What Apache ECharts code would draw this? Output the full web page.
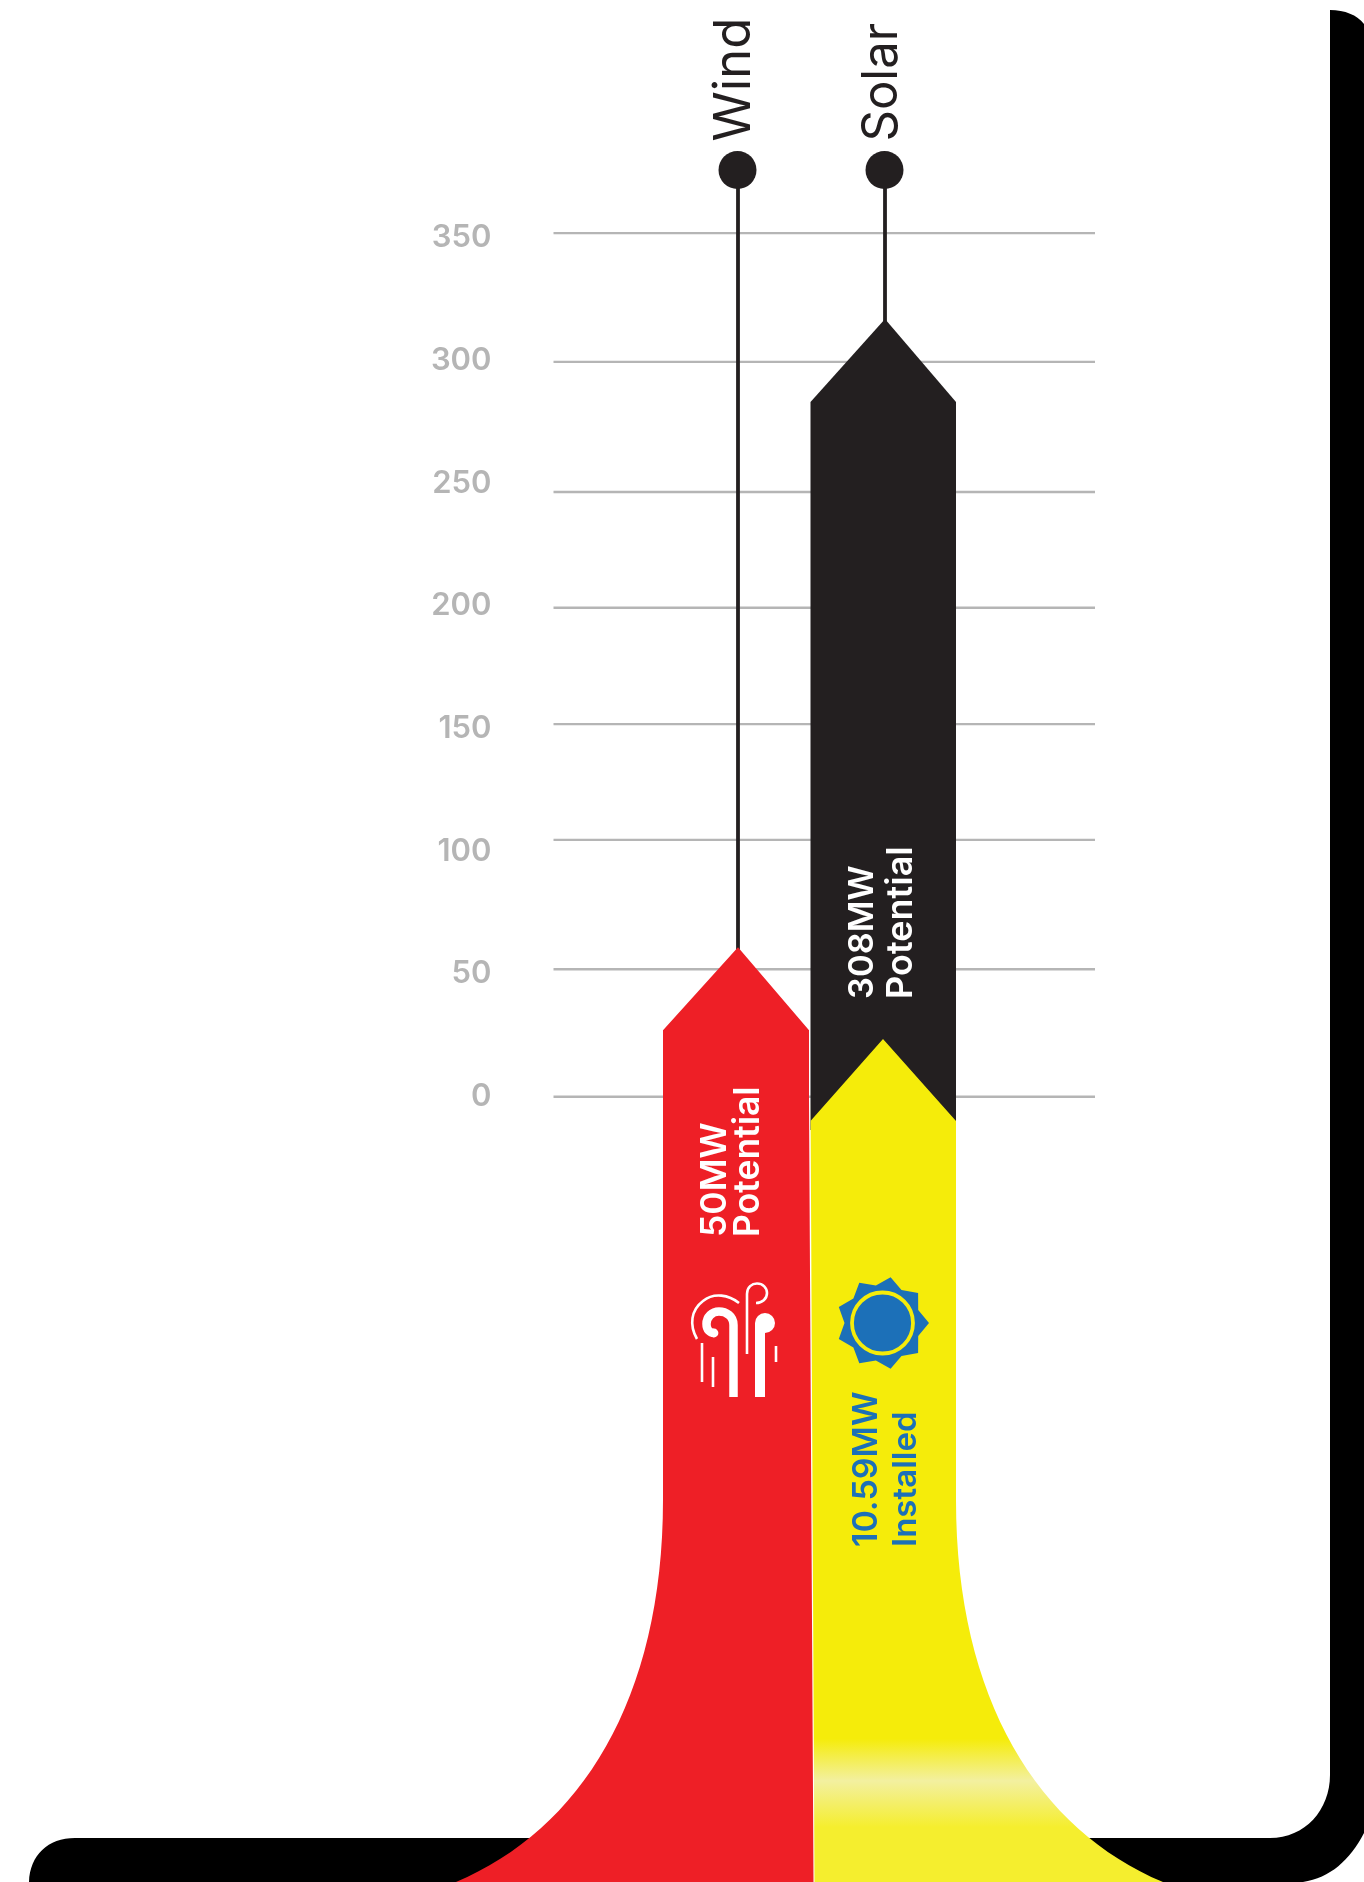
<!DOCTYPE html>
<html><head><meta charset="utf-8">
<style>html,body{margin:0;padding:0;background:#fff}#c{width:1364px;height:1882px}</style>
<script src="https://cdn.jsdelivr.net/npm/echarts@6/dist/echarts.min.js"></script>
</head><body><div id="c"></div>
<script>
const categories = ['Wind', 'Solar'];
const potentialTops = [61, 317];
const installedTops = [null, 23.6];
const tickLabels = [0, 50, 100, 150, 200, 250, 300, 350];
const gridLineValues = [0, 52, 104.7, 151.9, 199.3, 246.5, 299.5, 352];
const windTexts = ['50MW', 'Potential'];
const solarPotentialTexts = ['308MW', 'Potential'];
const solarInstalledTexts = ['10.59MW', 'Installed'];

const INK = '#231f20', RED = '#ee1f26', YELLOW = '#f5ec0a', BLUE = '#1c70b8', GREY = '#b5b5b5';
const FONT = 'Inter, "Open Sans", sans-serif';
const HEAD = 83, BOTTOM = 1882;

function vText(text, x, y, size, weight, color) {
  return { type: 'text', x: x, y: y, rotation: Math.PI / 2, silent: true,
    style: { text: text, x: 0, y: 0, fill: color, font: weight + ' ' + size + 'px ' + FONT,
      textAlign: 'left', textVerticalAlign: 'middle', verticalAlign: 'middle' } };
}
function pathEl(d, style) { return { type: 'path', shape: { pathData: d }, style: style, silent: true }; }

const chart = echarts.init(document.getElementById('c'), null, { renderer: 'canvas', width: 1364, height: 1882 });

function renderFrame() {
  return { type: 'group', children: [
    pathEl('M29 1882 C30 1855 48 1838 75 1838 L1270 1838 C1305 1838 1330 1810 1330 1775 L1330 10 ' +
      'C1345 10 1357 15 1364 24 L1364 1833 C1350 1860 1330 1878 1303 1882 Z', { fill: '#000' }),
    pathEl('M808 1100 L812 1100 L816 1882 L812 1882 Z', { fill: '#fff' })
  ] };
}
function renderGrid(params, api) {
  const y = api.coord([0, api.value(1)])[1];
  return { type: 'line', shape: { x1: 553.5, y1: y, x2: 1095, y2: y }, style: { stroke: GREY, lineWidth: 2.4 }, silent: true };
}
function renderPotential(params, api) {
  const i = api.value(0), c = api.coord([i, api.value(1)]), cx = c[0], tip = c[1];
  const tipX = cx + 2, children = [];
  children.push({ type: 'line', shape: { x1: tipX, y1: 170, x2: tipX, y2: tip + 4 }, style: { stroke: INK, lineWidth: 3.8 }, silent: true });
  children.push({ type: 'circle', shape: { cx: tipX - 0.5, cy: 170, r: 19 }, style: { fill: INK }, silent: true });
  children.push(vText(categories[i], i === 0 ? 735 : 882, 141.5, i === 0 ? 51 : 49, 400, INK));
  const sh = tip + HEAD;
  if (i === 0) {
    children.push(pathEl('M' + tipX + ' ' + tip + ' L809 ' + sh + ' L809 1100 L813.5 ' + BOTTOM + ' L456 ' + BOTTOM +
      ' C580 1830 663 1700 663 1500 L663 ' + sh + ' Z', { fill: RED }));
    children.push(vText(windTexts[0], 715, 1237, 35.5, 600, '#fff'));
    children.push(vText(windTexts[1], 748.5, 1237, 35.5, 600, '#fff'));
    windIcon(children);
  } else {
    children.push(pathEl('M' + tipX + ' ' + tip + ' L956 ' + sh + ' L956 1130 L810.5 1130 L810.5 ' + sh + ' Z', { fill: INK }));
    children.push(vText(solarPotentialTexts[0], 863, 999, 34.5, 600, '#fff'));
    children.push(vText(solarPotentialTexts[1], 901.5, 999, 36, 600, '#fff'));
  }
  return { type: 'group', children: children };
}
function windIcon(ch) {
  const thick = { fill: 'none', stroke: '#fff', lineWidth: 8.5 };
  const thin = { fill: 'none', stroke: '#fff', lineWidth: 2.6 };
  ch.push(pathEl('M733.5 1397 L733.5 1325 C733.5 1316 726 1311.5 719 1311.5 C712 1311.5 706.5 1317 706.5 1324 C706.5 1330 710 1333 714 1333', thick));
  ch.push({ type: 'circle', shape: { cx: 714, cy: 1333, r: 4.4 }, style: { fill: '#fff' }, silent: true });
  ch.push({ type: 'rect', shape: { x: 755, y: 1323, width: 10, height: 74 }, style: { fill: '#fff' }, silent: true });
  ch.push({ type: 'circle', shape: { cx: 765, cy: 1323, r: 10 }, style: { fill: '#fff' }, silent: true });
  ch.push(pathEl('M697 1339 C689 1325 691 1310 703 1301 C714 1292 729 1295 739 1303', thin));
  ch.push(pathEl('M747 1354 L747 1294 C747 1287 752 1283.5 757 1283.5 C763 1283.5 767 1288 767 1293 C767 1299 762 1303 756 1303', thin));
  ch.push(pathEl('M702 1343 L702 1382', thin));
  ch.push(pathEl('M713 1357 L713 1387', thin));
  ch.push(pathEl('M776 1346 L776 1362', thin));
}
function sunIcon(ch, cx, cy) {
  let d = '';
  for (let k = 0; k < 18; k++) {
    const r = k % 2 ? 38 : 46.5, a = k * Math.PI / 9;
    d += (k ? 'L' : 'M') + (cx + r * Math.cos(a)).toFixed(1) + ' ' + (cy - r * Math.sin(a)).toFixed(1) + ' ';
  }
  ch.push(pathEl(d + 'Z', { fill: BLUE }));
  ch.push({ type: 'circle', shape: { cx: cx, cy: cy, r: 30.5 }, style: { fill: BLUE, stroke: YELLOW, lineWidth: 3.8 }, silent: true });
}
function renderInstalled(params, api) {
  if (api.value(1) == null || isNaN(api.value(1))) return null;
  const c = api.coord([api.value(0), api.value(1)]), cx = c[0], tip = c[1], sh = tip + 82;
  const ch = [];
  const fill = new echarts.graphic.LinearGradient(0, 0, 0, 1, [
    { offset: 0, color: YELLOW }, { offset: 0.83, color: YELLOW }, { offset: 0.88, color: '#f3f0a0' },
    { offset: 0.935, color: '#f5ee2e' }, { offset: 1, color: '#f5ee2e' }]);
  ch.push(pathEl('M' + cx + ' ' + tip + ' L956 ' + sh + ' L956 1500 C956 1700 1039 1830 1163 ' + BOTTOM +
    ' L814.5 ' + BOTTOM + ' L810.5 1100 L810.5 ' + sh + ' Z', { fill: fill }));
  sunIcon(ch, 882.5, 1323);
  ch.push(vText(solarInstalledTexts[0], 867, 1547, 34, 600, BLUE));
  ch.push(vText(solarInstalledTexts[1], 906, 1547, 33, 600, BLUE));
  return { type: 'group', children: ch };
}

chart.setOption({
  animation: false,
  backgroundColor: '#fff',
  tooltip: { show: false },
  grid: { left: 662.5, width: 294, top: 0, height: 1882 },
  xAxis: { type: 'category', data: categories, show: false },
  yAxis: {
    type: 'value', min: -320, max: 447,
    axisLine: { show: false }, axisTick: { show: false }, splitLine: { show: false },
    axisLabel: { customValues: tickLabels, margin: 171, color: GREY, fontFamily: FONT, fontWeight: 600, fontSize: 31, padding: [3, 0, 0, 0] }
  },
  series: [
    { type: 'custom', name: 'frame', data: [[0, 0]], renderItem: renderFrame, silent: true },
    { type: 'custom', name: 'grid', data: gridLineValues.map(v => [0, v]), renderItem: renderGrid, silent: true },
    { type: 'custom', name: 'Potential', data: potentialTops.map((v, i) => [i, v]), renderItem: renderPotential, silent: true },
    { type: 'custom', name: 'Installed', data: installedTops.map((v, i) => [i, v]), renderItem: renderInstalled, silent: true }
  ]
});
</script></body></html>
